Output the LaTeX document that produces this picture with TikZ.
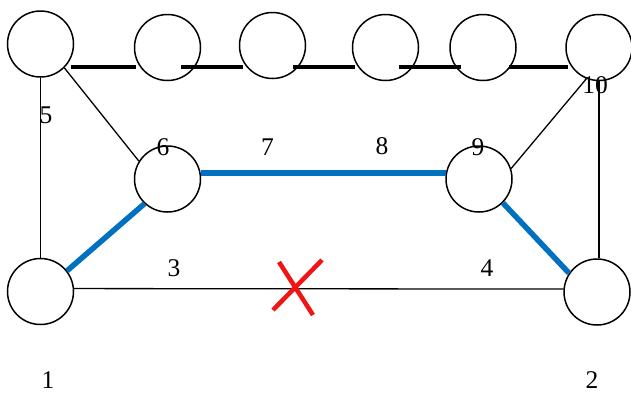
\documentclass[tikz,border=0pt]{standalone}
\usepackage{fontspec}
\setmainfont{Liberation Serif}
\begin{document}
\begin{tikzpicture}[x=1pt,y=-1pt,
  vertex/.style={circle,draw,line width=1.5pt,minimum size=66pt,inner sep=0pt},
  thin/.style={line width=1.3pt},
  bar/.style={line width=3.5pt},
  route/.style={line width=5.5pt,color=routeblue},
  cut/.style={line width=4.5pt,color=cutred},
  lbl/.style={inner sep=0pt,font=\fontsize{25.5}{25.5}\selectfont}]
\definecolor{routeblue}{RGB}{0,112,192}
\definecolor{cutred}{RGB}{240,20,20}
\useasboundingbox (0,0) rectangle (631,392);

% top row
\node[vertex] (t1)  at (40.5,44) {};
\node[vertex] (t2)  at (167.5,47.5) {};
\node[vertex] (t3)  at (272.5,45.5) {};
\node[vertex] (t4)  at (385.5,47.5) {};
\node[vertex] (t5)  at (483,47.5) {};
\node[vertex] (t10) at (599,47.5) {};
% middle row
\node[vertex] (m6) at (167.5,179) {};
\node[vertex] (m9) at (479,179) {};
% bottom row
\node[vertex] (b1) at (40.5,291.5) {};
\node[vertex] (b2) at (597,292) {};

% short bars along the top row
\coordinate (s1a) at (71,67);  \coordinate (s1b) at (136,67);
\coordinate (s2a) at (181,67); \coordinate (s2b) at (243,67);
\coordinate (s3a) at (293,67); \coordinate (s3b) at (355,67);
\coordinate (s4a) at (399,67); \coordinate (s4b) at (461,67);
\coordinate (s5a) at (509,67); \coordinate (s5b) at (568,67);
\draw[bar] (s1a) -- (s1b);
\draw[bar] (s2a) -- (s2b);
\draw[bar] (s3a) -- (s3b);
\draw[bar] (s4a) -- (s4b);
\draw[bar] (s5a) -- (s5b);

% thin links
\draw[thin] (t1.south) -- (b1.north);
\draw[thin] (t1.-45) -- (m6.148);
\draw[thin] (m9.18) -- (t10.248);
\draw[thin] (t10.south) -- (t10.south |- b2.north);
\draw[thin] (b1.5) -- (b2.175);

% highlighted route
\draw[route] (b1.38) -- (m6.227);
\draw[route] (m6.10) -- (m9.170);
\draw[route] (m9.-45) -- (b2.146);

% broken link mark
\coordinate (xa) at (279,262); \coordinate (xb) at (313,315);
\coordinate (xc) at (322,260); \coordinate (xd) at (273,310);
\draw[cut] (xa) -- (xb);
\draw[cut] (xc) -- (xd);

% labels
\node[lbl] (l5)  at (46,115) {5};
\node[lbl] (l6)  at (163,147) {6};
\node[lbl] (l7)  at (267.5,147) {7};
\node[lbl] (l8)  at (382,146) {8};
\node[lbl] (l9)  at (478,147) {9};
\node[lbl] (l10) at (595,85) {10};
\node[lbl] (l3)  at (174,268.5) {3};
\node[lbl] (l4)  at (487,268.5) {4};
\node[lbl] (l1)  at (48,380) {1};
\node[lbl] (l2)  at (592,380) {2};
\end{tikzpicture}
\end{document}
